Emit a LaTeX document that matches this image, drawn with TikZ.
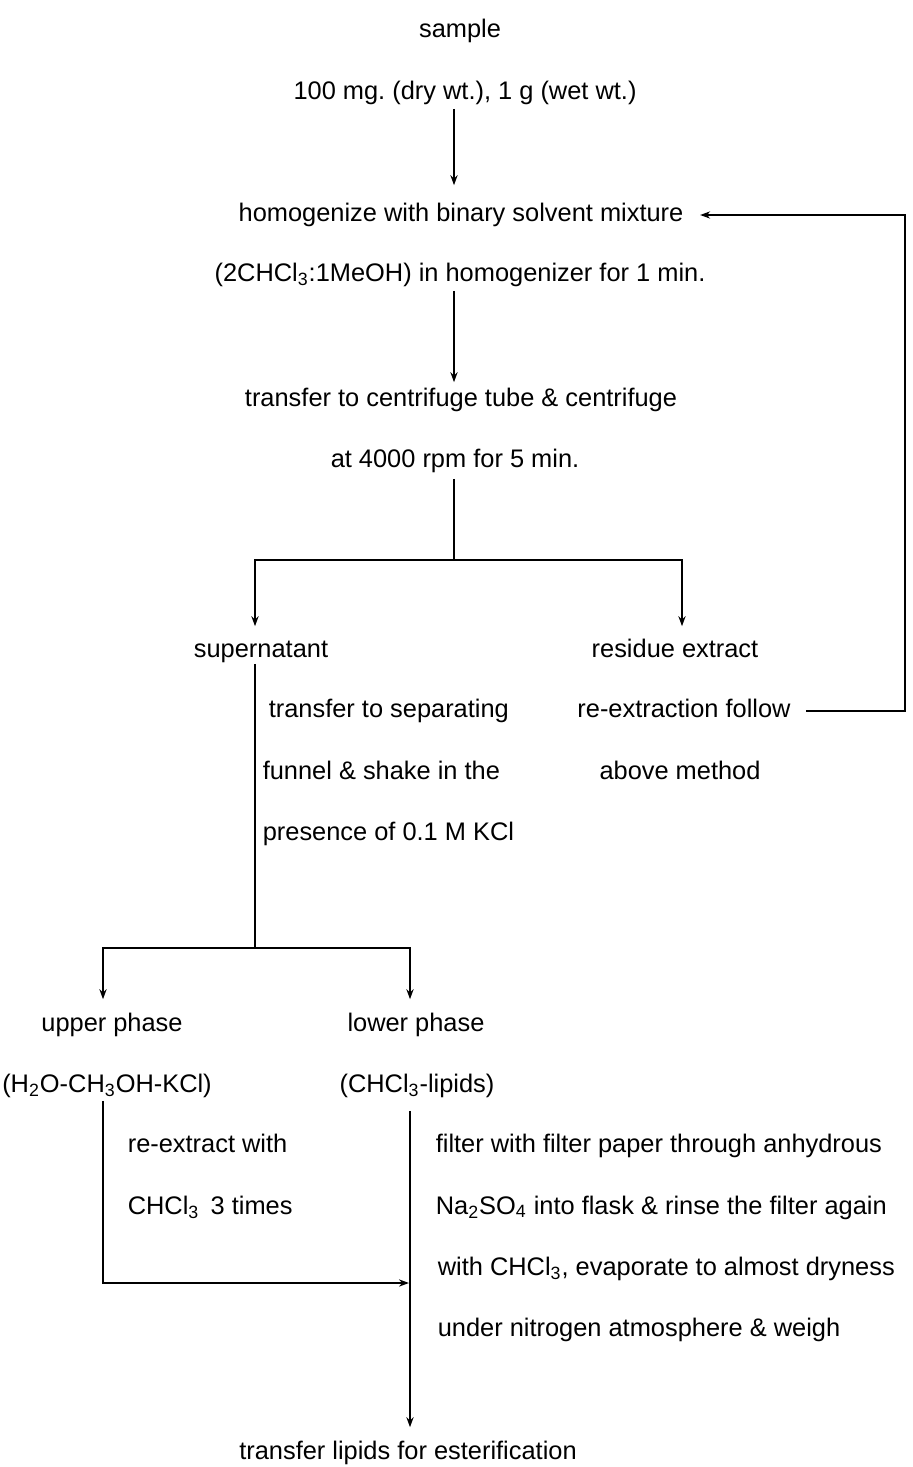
\documentclass[tikz,border=0pt]{standalone}
\usepackage{fontspec}
\setmainfont{Liberation Sans}
\usetikzlibrary{arrows.meta}
\frenchspacing

\begin{document}
\begin{tikzpicture}[x = 0.5pt, y = -0.5pt, > = {Stealth[length=5pt, width=3.6pt]}, line width = 0.8pt,
    every node/.style = {inner sep=0pt, text height=9pt, text depth=3pt, yshift=-1.5pt, font=\fontsize{12.7}{15}\selectfont},
    note/.style = {anchor=west}]
  \useasboundingbox (0,0) rectangle (912,1467);

  % columns of the connectors
  \coordinate (trunk) at (454,0);
  \coordinate (left) at (255,0);
  \coordinate (right) at (682,0);
  \coordinate (back) at (905,0);
  \coordinate (up) at (103,0);
  \coordinate (low) at (410,0);
  \coordinate (split) at (454,557);
  \coordinate (fork) at (255,945);
  \coordinate (join) at (410,1280);

  \node (sample) at (460,28) {sample};
  \node (mass) at (465,90) {100 mg. (dry wt.), 1 g (wet wt.)};
  \node (homog) at (461,212) {homogenize with binary solvent mixture};
  \node (solvent) at (460,272) {(2CHCl\textsubscript{3}:1MeOH) in homogenizer for 1 min.};
  \node (tube) at (461,397) {transfer to centrifuge tube \& centrifuge};
  \node (spin) at (455,458) {at 4000 rpm for 5 min.};

  \node (super) at (261,648) {supernatant};
  \node (residue) at (675,648) {residue extract};
  \node[note] (sep1) at (268,708) {transfer to separating};
  \node[note] (sep2) at (262,770) {funnel \& shake in the};
  \node[note] (sep3) at (262,831) {presence of 0.1 M KCl};
  \node (reext) at (684,708) {re-extraction follow};
  \node (method) at (680,770) {above method};

  \node (upper) at (112,1022) {upper phase};
  \node (upperc) at (107,1083) {(H\textsubscript{2}O-CH\textsubscript{3}OH-KCl)};
  \node (lower) at (416,1022) {lower phase};
  \node (lowerc) at (417,1083) {(CHCl\textsubscript{3}-lipids)};
  \node[note] (wash1) at (127,1143) {re-extract with};
  \node[note] (wash2) at (127,1205) {CHCl\textsubscript{3}\, 3 times};
  \node[note] (filt1) at (435,1143) {filter with filter paper through anhydrous};
  \node[note] (filt2) at (435,1205) {Na\textsubscript{2}SO\textsubscript{4} into flask \& rinse the filter again};
  \node[note] (filt3) at (437,1266) {with CHCl\textsubscript{3}, evaporate to almost dryness};
  \node[note] (filt4) at (437,1327) {under nitrogen atmosphere \& weigh};
  \node (ester) at (408,1450) {transfer lipids for esterification};

  \draw[->, shorten <=1.5pt, shorten >=8.5pt] (mass.south -| trunk) -- (homog.north -| trunk);
  \draw[->, shorten <=1.5pt, shorten >=2.5pt] (solvent.south -| trunk) -- (tube.north -| trunk);
  \draw[shorten <=2.5pt] (spin.south -| trunk) -- (split);
  \draw[->, shorten >=6pt] (split) -| (super.north -| left);
  \draw[->, shorten >=6pt] (split) -| (residue.north -| right);
  \draw[->, shorten <=7.5pt, shorten >=8pt] (reext.east) -| (back |- homog) -- (homog.east);

  \draw[shorten <=0pt] (super.south -| left) -- (fork);
  \draw[->, shorten >=6.5pt] (fork) -| (upper.north -| up);
  \draw[->, shorten >=6.5pt] (fork) -| (lower.north -| low);
  \draw[->, shorten <=1pt, shorten >=0.5pt] (upperc.south -| up) |- (join);
  \draw[->, shorten <=6pt, shorten >=6.5pt] (lowerc.south -| low) -- (ester.north -| low);
\end{tikzpicture}
\end{document}
